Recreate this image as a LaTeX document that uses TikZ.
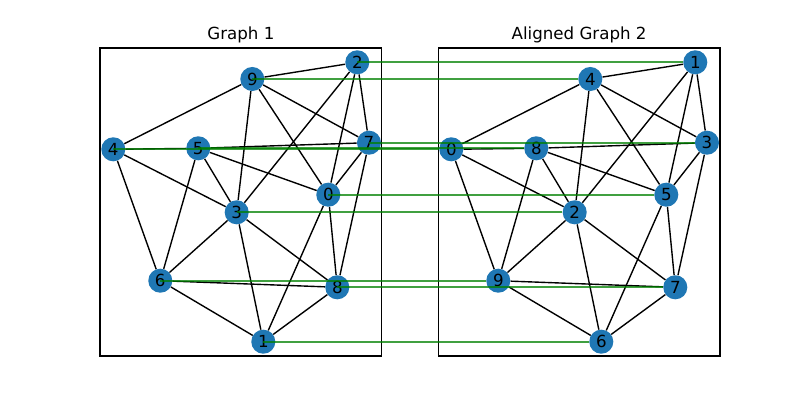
\documentclass[tikz,border=0pt]{standalone}
\usepackage{fontspec}
\setmainfont{DejaVu Sans}
\definecolor{nodeblue}{HTML}{1F77B4}
\definecolor{matchgreen}{HTML}{008000}

\begin{document}
\begin{tikzpicture}[x=0.72pt,y=-0.72pt,
    vertex/.style={circle,fill=nodeblue,minimum size=17.32pt,inner sep=0pt,font=\fontsize{12}{14}\selectfont},
    edge/.style={line width=1pt},
    match/.style={matchgreen,opacity=0.75,line width=1.3pt}]
    \useasboundingbox (0,0) rectangle (800,400);
    \draw[line width=0.8pt] (100,48) rectangle (381.8,356);
    \draw[line width=0.8pt] (438.2,48) rectangle (720,356);
    \node[anchor=base,font=\fontsize{12}{14}\selectfont] (t1) at (240.9,39.7) {Graph 1};
    \node[anchor=base,font=\fontsize{12}{14}\selectfont] (t2) at (579.1,39.7) {Aligned Graph 2};
    % graph 1
    \foreach \n/\x/\y in {0/328.3/194.7,1/263.3/341.7,2/357.3/62.3,3/236.7/212.3,4/113.3/149.3,
        5/198.3/148.3,6/160.3/280.7,7/369/142.7,8/337.3/287.3,9/252.3/79}
    \node[vertex] (a\n) at (\x,\y) {\n};
    \foreach \u/\v in {9/2,9/4,9/3,9/0,9/7,2/3,2/0,2/7,4/5,5/7,4/3,4/6,5/3,5/0,5/6,
        7/0,7/8,3/6,3/1,3/8,6/8,6/1,8/1,0/8,0/1}
    \draw[edge] (a\u)--(a\v);
    % graph 2
    \foreach \n/\x/\y in {0/451.3/149.3,1/695.3/62.3,2/574.7/212.3,3/707/142.7,4/590.3/79,
        5/666.3/194.7,6/601.3/341.7,7/675.3/287.3,8/536.3/148.3,9/498.3/280.7}
    \node[vertex] (b\n) at (\x,\y) {\n};
    \foreach \u/\v in {4/1,4/0,4/2,4/5,4/3,1/2,1/5,1/3,0/8,8/3,0/2,0/9,8/2,8/5,8/9,
        3/5,3/7,2/9,2/6,2/7,9/7,9/6,7/6,5/7,5/6}
    \draw[edge] (b\u)--(b\v);
    % alignment
    \foreach \u/\v in {0/5,1/6,2/1,3/2,4/0,5/8,6/9,7/3,8/7,9/4}
    \draw[match] (a\u.center)--(b\v);
\end{tikzpicture}
\end{document}
